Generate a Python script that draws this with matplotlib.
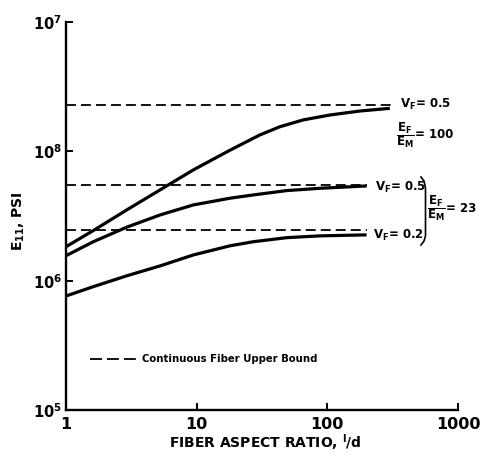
import matplotlib.pyplot as plt
from matplotlib.lines import Line2D

# values (E11 in psi vs fiber aspect ratio l/d)
ratio_top = [1, 1.618, 2.913, 5.24, 9.42, 17.98, 30.5, 43.4, 65.4, 104.7, 177.6, 301]
e11_top = [1.83e6, 2.44e6, 3.52e6, 5.03e6, 7.18e6, 1.02e7, 1.34e7, 1.55e7, 1.75e7, 1.91e7, 2.05e7, 2.15e7]

ratio_mid = [1, 1.618, 2.913, 5.24, 9.42, 17.98, 27.1, 48.8, 87.8, 199.8]
e11_mid = [1.56e6, 2.00e6, 2.59e6, 3.22e6, 3.85e6, 4.34e6, 4.60e6, 4.97e6, 5.18e6, 5.40e6]

ratio_low = [1, 1.618, 2.913, 5.24, 9.42, 17.98, 27.1, 48.8, 87.8, 199.8]
e11_low = [7.61e5, 8.99e5, 1.09e6, 1.30e6, 1.58e6, 1.86e6, 2.00e6, 2.15e6, 2.22e6, 2.26e6]

# continuous fiber upper bounds: (level, last aspect ratio drawn)
bound_levels = [2.27e7, 5.50e6, 2.47e6]
bound_ends = [329, 200, 200]

xticks = [1, 10, 100, 1000]
xtick_labels = ['1', '10', '100', '1000']
yticks = [1e5, 1e6, 1e7, 1e8]
ytick_labels = ['10$^{5}$', '10$^{6}$', '10$^{8}$', '10$^{7}$']   # as printed on the original

plt.rcParams['font.family'] = 'DejaVu Sans'
plt.rcParams['font.weight'] = 'bold'
plt.rcParams['mathtext.default'] = 'bf'

fig = plt.figure(figsize=(4.81, 4.55), dpi=100)
ax = fig.add_axes([66 / 481, 1 - 410 / 455, 392 / 481, 388 / 455])

for lvl, end in zip(bound_levels, bound_ends):
    ax.plot([1, end], [lvl, lvl], color='black', lw=1.3, linestyle=(0, (5.5, 2.8)))

for xs, ys in [(ratio_top, e11_top), (ratio_mid, e11_mid), (ratio_low, e11_low)]:
    ax.plot(xs, ys, color='black', lw=2.3, solid_capstyle='butt', solid_joinstyle='round')

ax.set_xscale('log')
ax.set_yscale('log')
ax.set_xlim(1, 1000)
ax.set_ylim(1e5, 1e8)
ax.set_xticks(xticks)
ax.set_xticklabels(xtick_labels)
ax.set_yticks(yticks)
ax.set_yticklabels(ytick_labels)
ax.minorticks_off()
ax.tick_params(axis='both', direction='in', length=5, width=1.4, color='black')
ax.tick_params(axis='x', labelsize=11.5, pad=5)
ax.tick_params(axis='y', labelsize=10.5, pad=3)
for s in ['top', 'right']:
    ax.spines[s].set_visible(False)
for s in ['left', 'bottom']:
    ax.spines[s].set_linewidth(1.7)

ax.set_xlabel('FIBER ASPECT RATIO, $^{l}$/d', fontsize=10, fontweight='bold')
ax.xaxis.set_label_coords(0.508, -0.058)
ax.set_ylabel('E$_{11}$, PSI', fontsize=10, fontweight='bold')
ax.yaxis.set_label_coords(-0.1, 0.487)

# curve labels (figure-pixel placement)
def ftext(px, py, s, **kw):
    fig.text(px / 481, 1 - py / 455, s, va='center', fontweight='bold', **kw)

ftext(400, 104, 'V$_F$= 0.5', fontsize=8.5)
ftext(396, 135, r'$\dfrac{E_F}{E_M}$', fontsize=8.5)
ftext(415, 135, '= 100', fontsize=8.5)
ftext(375, 187, 'V$_F$= 0.5', fontsize=8.5)
ftext(373, 235, 'V$_F$= 0.2', fontsize=8.5)
ftext(427, 208, r'$\dfrac{E_F}{E_M}$', fontsize=8.5)
ftext(446, 209, '= 23', fontsize=8.5)

# tall bracket grouping the two lower labels
bx = [421, 424, 425.5, 425.5, 424, 421]
by = [177, 181, 188, 236, 241, 245]
fig.add_artist(Line2D([x / 481 for x in bx], [1 - y / 455 for y in by],
                      color='black', lw=1.2, transform=fig.transFigure))

# legend
fig.add_artist(Line2D([90 / 481, 141 / 481], [1 - 359 / 455, 1 - 359 / 455],
                      color='black', lw=1.3, linestyle=(0, (6.6, 2.8)),
                      transform=fig.transFigure))
ftext(142, 359, 'Continuous Fiber Upper Bound', fontsize=7.3)

fig.savefig('out.png', dpi=100)
